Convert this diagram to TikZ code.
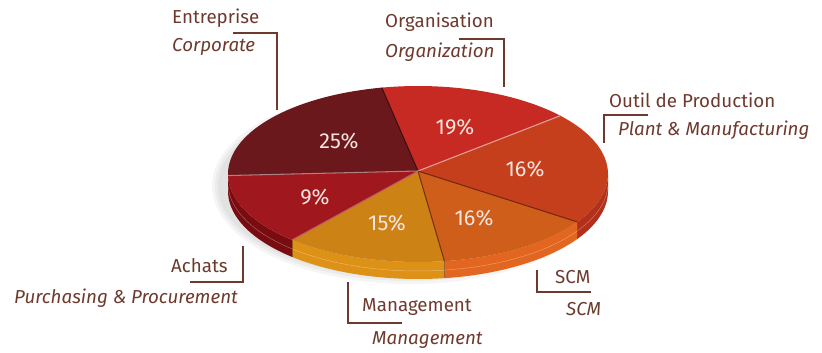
\documentclass[tikz,border=0pt]{standalone}
\usepackage{fontspec}
\setsansfont{Fira Sans}
\usetikzlibrary{calc}
\definecolor{entcol}{HTML}{6A181B}
\definecolor{orgcol}{HTML}{C62A22}
\definecolor{outcol}{HTML}{C53F1D}
\definecolor{scmcol}{HTML}{CF5E1A}
\definecolor{mgtcol}{HTML}{CD8216}
\definecolor{achcol}{HTML}{A0181D}
\definecolor{outside}{HTML}{B2301A}
\definecolor{scmside}{HTML}{E2661F}
\definecolor{mgtside}{HTML}{DD9117}
\definecolor{achside}{HTML}{780C10}
\definecolor{brun}{HTML}{6E3A2E}
\definecolor{pcttext}{HTML}{F6E4DF}
\tikzstyle{slice}=[draw=none]
\tikzstyle{callout}=[draw=brun,line width=0.9pt]
\tikzstyle{catname}=[anchor=west,inner sep=0pt,text=brun,font=\sffamily\fontsize{16}{18}\selectfont]
\tikzstyle{catnameit}=[catname,font=\sffamily\itshape\fontsize{16}{18}\selectfont]
\tikzstyle{pct}=[text=pcttext,inner sep=0pt,font=\sffamily\fontsize{18.5}{20}\selectfont]

\begin{document}
\begin{tikzpicture}[x=0.3mm,y=-0.3mm]
    \useasboundingbox (0,0) rectangle (822,352);
    % soft shadow under the pie
    \foreach \grow in {8,5,2}
        \fill[black,opacity=0.04] (410,186) ellipse ({190+\grow} and {90+\grow});

    % First we draw the sides
    \foreach \from/ \to/ \col in {{0/33/outside},{33/82/scmside},{82/131.5/mgtside},{131.5/180/achside}}
        \fill[\col] plot[domain=\from:\to,samples=30] ({418+190*cos(\x)},{174+88*sin(\x)})
            -- plot[domain=\to:\from,samples=30] ({418+190*cos(\x)},{191+88*sin(\x)}) -- cycle;
    \draw[white,opacity=0.35,line width=0.4pt] plot[domain=2:178,samples=60] ({418+190*cos(\x)},{183+88*sin(\x)});
    \foreach \ang in {33,82,131.5}
        \draw[black,opacity=0.3,line width=0.6pt] ({418+190*cos(\ang)},{174+88*sin(\ang)}) -- ++(0,17);

    % Then the top of each slice
    \coordinate (apex) at (418,171);
    \foreach \from/ \to/ \col in {{-101/-41.5/orgcol},{-41.5/33/outcol},{33/82/scmcol},{82/131.5/mgtcol},{131.5/179/achcol},{179/259/entcol}}
        \fill[\col] (apex) -- plot[domain=\from:\to,samples=40] ({418+190*cos(\x)},{174+88*sin(\x)}) -- cycle;

    % Slice borders
    \foreach \ang/ \col in {{-101/entcol!60!black},{-41.5/orgcol!45!white},{33/outcol!60!black},{82/scmcol!55!black},{131.5/achcol!70!white},{179/entcol!55!white}}
        \draw[\col,line width=0.9pt] (apex) -- ({418+190*cos(\ang)},{174+88*sin(\ang)});

    % Percentages
    \foreach \pos/ \name/ \val in {{(339,141)/pent/25},{(455,127)/porg/19},{(525,169)/pout/16},{(474,218)/pscm/16},{(387,223)/pmgt/15},{(315,197)/pach/9}}
        \node[pct] (\name) at \pos {\val\%};

    % Category names
    \node[catname] (ent) at (172,18) {Entreprise};
    \node[catnameit] (entit) at (172,47) {Corporate};
    \node[catname] (org) at (385,22) {Organisation};
    \node[catnameit] (orgit) at (385,52) {Organization};
    \node[catname] (out) at (609,100) {Outil de Production};
    \node[catnameit] (outit) at (618,130) {Plant \& Manufacturing};
    \node[catname] (scm) at (555,277) {SCM};
    \node[catnameit] (scmit) at (566,309) {SCM};
    \node[catname] (mgt) at (362,307) {Management};
    \node[catnameit] (mgtit) at (372,340) {Management};
    \node[catname] (ach) at (171,266) {Achats};
    \node[catnameit] (achit) at (14,298) {Purchasing \& Procurement};

    % Callout lines
    \foreach \start/ \stop in {{(233,33)/(277,110)},{(459,39)/(504,87)},{(648,115)/(604,143)}}
        \draw[callout] \start -| \stop;
    \foreach \start/ \stop in {{(537,270)/(591,292)},{(348,282)/(402,323)},{(243,246)/(190,282)}}
        \draw[callout] \start |- \stop;
\end{tikzpicture}
\end{document}
